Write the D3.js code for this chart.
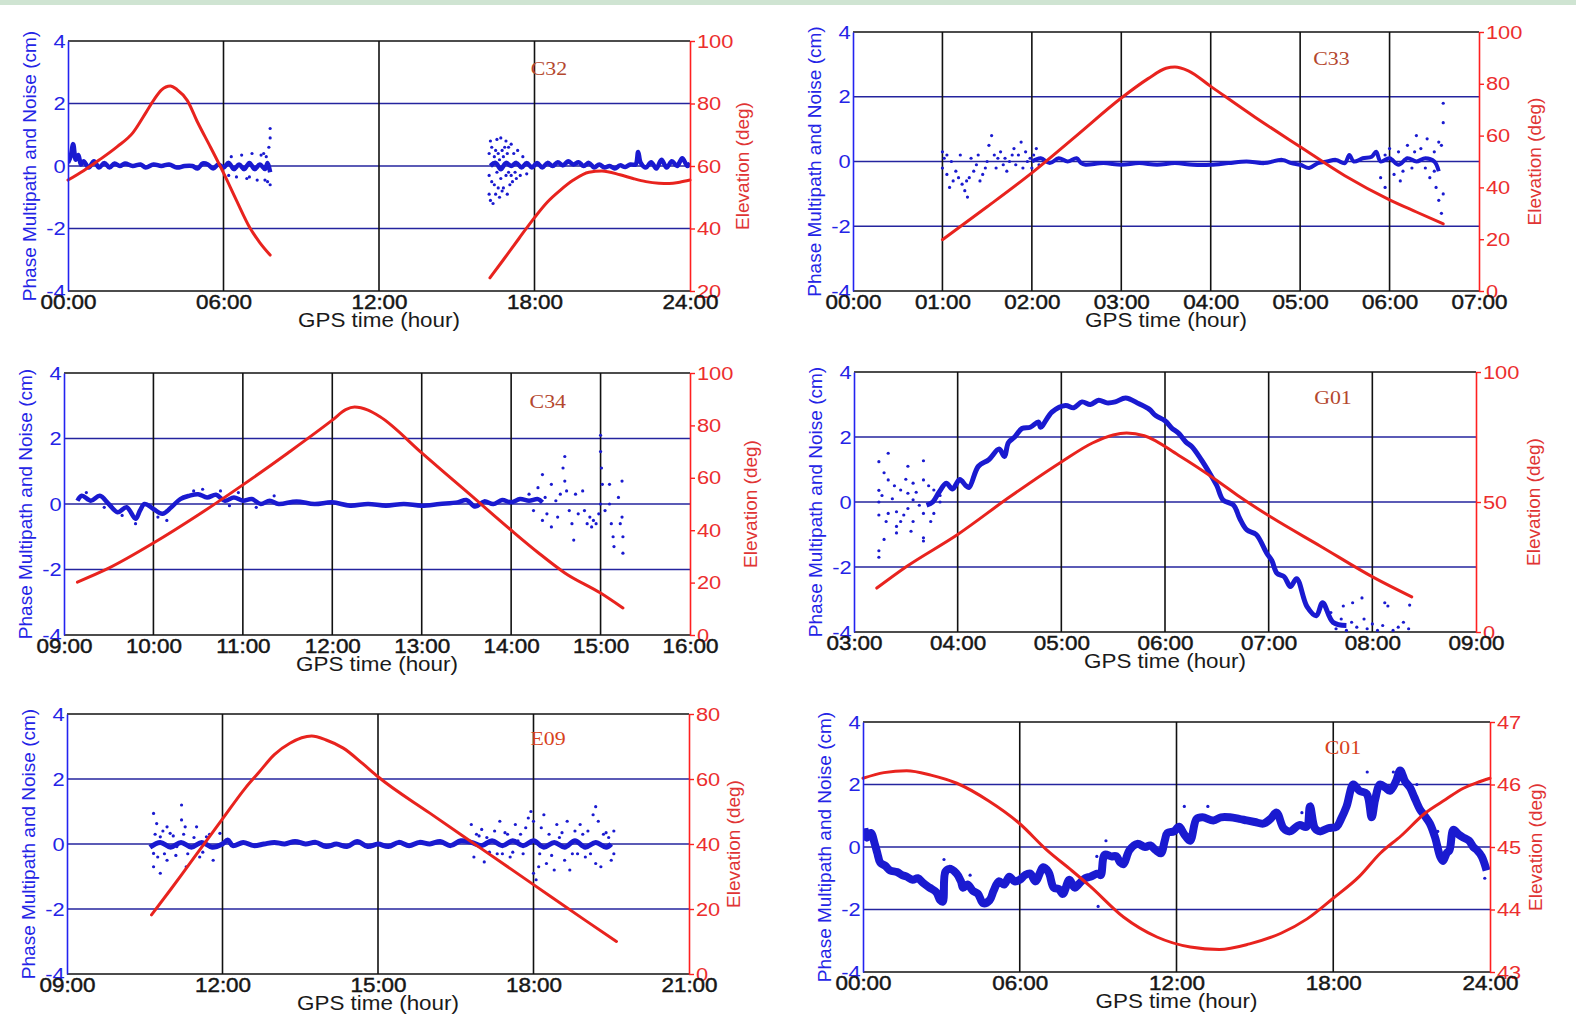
<!DOCTYPE html>
<html>
<head>
<meta charset="utf-8">
<script src="https://cdnjs.cloudflare.com/ajax/libs/d3/7.8.5/d3.min.js"></script>
<style>
body { margin: 0; background: #fff; }
svg { display: block; }
</style>
</head>
<body>
<svg id="chart" width="1576" height="1014"></svg>
<script>
// ---- data: [hour, value] pairs ----
// left axis ticks shared by every panel (cm)
const leftTicks = [-4, -2, 0, 2, 4];

// C32
const c32Ticks = [0, 6, 12, 18, 24];
const c32ElevTicks = [20, 40, 60, 80, 100];
const c32Elev1 = [[0,55.5],[0.6,58.5],[1.2,61.9],[1.9,66.2],[2.5,70.6],[3.0,77],[3.3,81],[3.6,84.3],[3.95,85.6],[4.2,84.5],[4.6,81],[5.0,74],[5.5,66],[6.0,57.8],[6.5,49],[7.0,40.5],[7.4,35.5],[7.8,31.5]];
const c32Elev2 = [[16.28,24.2],[16.8,30],[17.4,36.8],[18.0,43.5],[18.5,48.5],[19.0,52.3],[19.5,55.5],[20.1,58],[20.6,58.4],[21.3,57.2],[21.8,56],[22.3,55],[22.8,54.5],[23.2,54.4],[23.6,54.8],[24.0,55.5]];
const c32Band1 = [[0.0,0.1],[0.1,0.3],[0.2,0.7],[0.3,0.2],[0.4,0.35],[0.5,0.05],[0.6,0.15],[0.8,-0.05],[1.0,0.15],[1.2,-0.05],[1.4,0.1],[1.6,-0.05],[1.8,0.08],[2.0,0.0],[2.2,0.08],[2.5,0.0],[2.8,0.05],[3.0,-0.05],[3.3,0.05],[3.6,0.0],[3.9,0.05],[4.2,-0.05],[4.5,0.0],[4.8,0.0],[5.0,-0.08],[5.2,0.08],[5.4,0.05],[5.6,-0.08],[5.8,0.05],[6.0,-0.05],[6.2,0.1],[6.4,-0.1],[6.6,0.05],[6.8,-0.1],[7.0,0.1],[7.2,-0.1],[7.4,0.05],[7.6,-0.1],[7.7,0.1],[7.8,-0.2]];
const c32Band2 = [[16.3,0.0],[16.5,0.1],[16.7,-0.1],[16.9,0.1],[17.1,0.0],[17.3,0.1],[17.5,-0.05],[17.7,0.1],[17.9,-0.05],[18.1,0.1],[18.3,-0.05],[18.5,0.1],[18.7,0.0],[18.9,0.12],[19.1,0.02],[19.3,0.15],[19.5,0.05],[19.7,0.12],[19.9,0.0],[20.1,0.1],[20.3,-0.05],[20.5,0.05],[20.7,-0.05],[20.9,0.0],[21.1,-0.08],[21.3,0.02],[21.5,-0.03],[21.7,0.05],[21.9,0.05],[22.0,0.45],[22.1,0.1],[22.3,-0.05],[22.5,0.12],[22.7,-0.08],[22.9,0.2],[23.1,-0.05],[23.3,0.15],[23.5,0.0],[23.7,0.25],[23.9,0.0],[24.0,0.1]];
const c32Scatter = [[7.8,1.2],[7.8,0.9],[7.75,0.6],[7.8,-0.6],[7.7,-0.5],[7.55,0.4],[7.3,-0.45],[7.0,-0.35],[6.2,-0.3],[6.3,0.3],[6.5,-0.35],[6.7,0.35],[6.9,-0.4],[7.1,0.4],[7.45,0.35],[7.6,-0.45],[7.65,0.3],
  [16.25,-0.9],[16.25,0.4],[16.25,-0.3],[16.3,-1.1],[16.3,0.8],[16.35,0.6],[16.35,-0.5],[16.4,-1.2],[16.4,0.1],[16.45,0.3],[16.45,-0.6],[16.5,-0.9],[16.5,0.5],[16.55,0.85],[16.55,-0.2],[16.6,-0.7],[16.6,0.4],[16.65,-1.0],[16.65,0.2],[16.7,0.9],[16.7,-0.4],[16.75,0.5],[16.75,-0.8],[16.8,-0.7],[16.8,0.3],[16.85,0.6],[16.9,0.8],[16.9,-0.3],[16.95,-0.9],[16.95,0.4],[17.0,0.6],[17.0,-0.2],[17.05,-0.6],[17.1,0.7],[17.1,-0.3],[17.15,-0.5],[17.2,0.4],[17.25,-0.2],[17.3,-0.4],[17.35,0.5],[17.45,-0.3],[17.55,0.3],[17.7,-0.25]];

// C33
const c33Ticks = [0, 1, 2, 3, 4, 5, 6, 7];
const c33ElevTicks = [0, 20, 40, 60, 80, 100];
const c33Elev = [[1.0,19.8],[1.5,32.5],[2.0,45.6],[2.5,60],[3.0,74.5],[3.3,82],[3.5,86],[3.6,86.5],[3.75,85],[4.0,79],[4.5,67],[5.0,55.7],[5.5,44.5],[6.0,35.2],[6.3,30.5],[6.6,25.9]];
const c33Band = [[2.0,0.0],[2.1,0.1],[2.2,-0.05],[2.3,0.1],[2.4,0.0],[2.5,0.1],[2.55,-0.05],[2.6,-0.1],[2.8,-0.05],[3.0,-0.1],[3.2,-0.05],[3.4,-0.1],[3.6,-0.05],[3.8,-0.1],[4.0,-0.1],[4.2,-0.05],[4.4,0.0],[4.6,-0.05],[4.8,0.05],[4.9,-0.05],[5.0,-0.1],[5.1,-0.2],[5.2,-0.05],[5.3,0.0],[5.4,0.05],[5.5,-0.05],[5.55,0.2],[5.6,0.0],[5.7,0.1],[5.8,0.15],[5.85,0.3],[5.9,0.0],[6.0,0.1],[6.1,-0.1],[6.2,0.1],[6.3,0.0],[6.4,0.1],[6.5,0.0],[6.55,-0.3]];
const c33Scatter = [[1.0,0.3],[1.0,-0.2],[1.02,0.1],[1.05,-0.4],[1.1,0.0],[1.12,-0.6],[1.15,-0.3],[1.2,0.2],[1.22,-0.7],[1.25,-0.9],[1.28,-1.1],[1.3,-0.5],[1.32,0.1],[1.35,-0.3],[1.4,0.2],[1.42,-0.6],[1.45,-0.4],[1.5,0.0],[1.52,0.5],[1.55,0.8],[1.58,0.2],[1.6,-0.2],[1.65,0.3],[1.7,0.1],[1.72,-0.3],[1.75,0.0],[1.8,0.4],[1.82,-0.1],[1.85,0.2],[1.88,0.6],[1.9,-0.2],[1.93,0.3],[1.95,0.0],[2.0,-0.2],[2.02,0.2],[2.05,0.4],[2.08,-0.1],[2.1,0.1],
  [1.05,0.2],[1.08,-0.8],[1.18,-0.5],[1.27,-0.6],[1.38,-0.1],[1.48,-0.2],[1.62,0.1],[1.68,-0.1],[1.78,0.2],[1.98,0.1],
  [5.9,-0.5],[5.95,-0.8],[6.0,0.4],[6.05,-0.4],[6.1,0.3],[6.15,-0.3],[6.2,0.5],[6.25,-0.2],[6.3,0.8],[6.35,0.4],[6.4,-0.2],[6.42,0.7],[6.45,-0.5],[6.5,0.3],[6.52,-0.8],[6.55,-1.2],[6.58,-1.6],[6.6,1.2],[6.6,1.8],[6.58,0.5],[6.6,-1.0],[6.5,-0.3],[6.55,0.6],[5.95,0.2],[6.12,-0.6],[6.28,0.3]];

// C34
const c34Ticks = [9, 10, 11, 12, 13, 14, 15, 16];
const c34ElevTicks = [0, 20, 40, 60, 80, 100];
const c34Elev = [[9.15,20.2],[9.5,25.5],[10.0,35.1],[10.5,45.8],[11.0,57.3],[11.5,69.4],[12.0,82],[12.15,86],[12.25,87],[12.4,85.8],[12.53,83.4],[13.0,69.5],[13.5,54.8],[14.0,40],[14.3,31.5],[14.6,23.7],[15.0,16],[15.25,10.3]];
const c34Band = [[9.15,0.1],[9.2,0.25],[9.3,0.1],[9.4,0.25],[9.5,0.0],[9.6,-0.25],[9.7,-0.1],[9.8,-0.45],[9.85,-0.2],[9.9,0.0],[10.0,-0.15],[10.1,-0.3],[10.2,-0.1],[10.3,0.15],[10.4,0.25],[10.5,0.3],[10.6,0.2],[10.7,0.28],[10.8,0.1],[10.9,0.2],[11.0,0.1],[11.1,0.15],[11.2,0.0],[11.3,0.1],[11.4,0.0],[11.6,0.08],[11.8,0.0],[12.0,0.05],[12.2,-0.05],[12.4,0.0],[12.6,-0.05],[12.8,0.0],[13.0,-0.05],[13.2,0.0],[13.4,0.05],[13.5,0.12],[13.6,-0.08],[13.7,0.08],[13.8,0.0],[13.9,0.12],[14.0,0.05],[14.1,0.15],[14.2,0.1],[14.3,0.15],[14.35,0.05]];
const c34Scatter = [[14.2,0.3],[14.25,-0.2],[14.3,0.5],[14.35,0.9],[14.35,-0.5],[14.38,0.2],[14.4,-0.3],[14.45,0.6],[14.45,-0.7],[14.5,0.1],[14.52,-0.4],[14.55,0.3],[14.58,1.1],[14.6,1.45],[14.6,0.7],[14.62,0.4],[14.65,-0.2],[14.68,-0.6],[14.7,-1.1],[14.72,0.3],[14.75,-0.3],[14.8,0.4],[14.82,-0.2],[14.85,-0.6],[14.88,-0.4],[14.9,-0.7],[14.92,-0.5],[14.95,-0.6],[14.98,-0.3],[15.0,2.1],[15.0,1.6],[15.01,1.1],[15.02,0.6],[15.0,0.0],[15.05,-0.2],[15.1,0.6],[15.1,0.0],[15.12,-0.6],[15.14,-1.0],[15.15,-1.3],[15.2,0.2],[15.24,0.7],[15.24,-0.4],[15.25,-1.0],[15.25,-1.5],[15.22,-0.6],
  [9.25,0.35],[9.45,-0.1],[9.65,-0.35],[9.8,-0.6],[10.05,-0.4],[10.15,-0.5],[10.45,0.4],[10.55,0.45],[10.75,0.4],[10.85,-0.05],[10.95,0.35],[11.15,-0.1],[11.35,0.25]];

// G01
const g01Ticks = [3, 4, 5, 6, 7, 8, 9];
const g01ElevTicks = [0, 50, 100];
const g01Elev = [[3.22,16.9],[3.5,25],[4.0,37.5],[4.5,51.9],[5.0,65.4],[5.3,72.7],[5.5,75.8],[5.63,76.5],[5.8,75.5],[6.13,68],[6.5,58.3],[6.72,52],[7.03,44],[7.5,33],[8.02,20.8],[8.38,13.5]];
const g01Band = [[3.7,-0.1],[3.76,0.0],[3.82,0.3],[3.89,0.58],[3.95,0.4],[4.02,0.69],[4.08,0.5],[4.11,0.45],[4.2,1.1],[4.3,1.3],[4.4,1.63],[4.45,1.4],[4.49,1.83],[4.55,2.0],[4.62,2.26],[4.7,2.3],[4.78,2.46],[4.8,2.3],[4.91,2.77],[5.04,2.97],[5.12,2.9],[5.2,3.08],[5.28,3.0],[5.36,3.13],[5.44,3.05],[5.52,3.08],[5.62,3.2],[5.75,3.02],[5.85,2.85],[5.91,2.66],[6.0,2.5],[6.07,2.26],[6.13,2.12],[6.2,1.85],[6.26,1.7],[6.35,1.3],[6.43,0.89],[6.5,0.5],[6.56,0.06],[6.66,-0.09],[6.72,-0.5],[6.79,-0.86],[6.88,-1.0],[6.98,-1.57],[7.03,-1.8],[7.08,-2.19],[7.15,-2.3],[7.21,-2.6],[7.27,-2.36],[7.37,-3.22],[7.46,-3.5],[7.52,-3.1],[7.62,-3.7],[7.75,-3.8]];
const g01Scatter = [[3.24,1.24],[3.24,-1.5],[3.24,-1.7],[3.24,0.36],[3.24,0.0],[3.24,-0.4],[3.29,-1.15],[3.29,0.9],[3.33,1.5],[3.33,0.68],[3.33,-0.35],[3.41,-0.3],[3.41,-0.75],[3.41,-0.95],[3.45,0.37],[3.45,-0.6],[3.52,1.1],[3.52,0.27],[3.52,-0.2],[3.57,0.58],[3.57,0.07],[3.57,-0.6],[3.67,1.27],[3.67,0.68],[3.67,-1.1],[3.67,-0.35],[3.67,-1.2],[3.77,0.37],[3.77,-0.35],[3.83,0.2],[3.83,0.0],
  [3.27,0.2],[3.31,-0.6],[3.37,0.1],[3.39,0.5],[3.48,-0.4],[3.5,0.7],[3.55,-0.9],[3.6,0.3],[3.63,-0.1],[3.72,0.5],[3.74,-0.6],
  [7.6,-3.4],[7.65,-3.9],[7.7,-3.6],[7.72,-3.2],[7.75,-3.95],[7.8,-3.7],[7.81,-3.1],[7.85,-3.85],[7.9,-2.95],[7.92,-3.6],[7.95,-3.9],[8.0,-3.75],[8.05,-3.95],[8.1,-3.8],[8.12,-3.1],[8.15,-3.2],[8.2,-3.95],[8.25,-3.85],[8.3,-3.7],[8.36,-3.17],[8.35,-3.9]];

// E09
const e09Ticks = [9, 12, 15, 18, 21];
const e09ElevTicks = [0, 20, 40, 60, 80];
const e09Elev = [[10.63,18.2],[11.0,26],[11.3,32.5],[11.7,41.2],[12.0,47.7],[12.44,57.2],[12.7,62],[13.0,67.5],[13.3,71],[13.72,73.2],[14.0,72],[14.33,69.5],[14.7,64.8],[15.0,60.7],[16.0,49.5],[17.0,38.5],[18.0,27.5],[19.0,16.5],[19.6,10]];
const e09Band = [[10.6,-0.1],[10.8,0.05],[11.0,-0.1],[11.2,0.05],[11.4,-0.1],[11.6,0.05],[11.8,-0.1],[12.0,0.0],[12.1,0.12],[12.2,-0.05],[12.4,0.05],[12.6,-0.05],[12.8,0.0],[13.0,0.05],[13.2,0.0],[13.4,0.08],[13.6,0.0],[13.8,0.05],[14.0,-0.08],[14.2,0.0],[14.4,-0.08],[14.6,0.08],[14.8,-0.08],[15.0,0.0],[15.2,-0.08],[15.4,0.05],[15.6,-0.05],[15.8,0.05],[16.0,0.0],[16.2,0.08],[16.4,-0.05],[16.6,0.1],[16.8,0.05],[17.0,-0.05],[17.2,0.1],[17.4,-0.05],[17.6,0.1],[17.8,-0.05],[18.0,0.1],[18.2,-0.1],[18.4,0.05],[18.6,-0.1],[18.8,0.1],[19.0,-0.1],[19.2,0.05],[19.4,-0.1],[19.5,0.0]];
const e09Scatter = [[10.67,0.94],[10.67,-0.29],[10.67,-0.7],[10.73,0.63],[10.8,-0.9],[10.8,0.22],[10.93,0.53],[10.93,-0.5],[10.99,0.33],[11.12,-0.08],[11.21,1.2],[11.21,0.74],[11.28,0.53],[11.3,-0.7],[11.37,-0.08],[11.5,0.53],[11.56,-0.4],[11.69,0.22],[11.82,-0.5],[11.95,0.33],
  [10.7,0.3],[10.75,-0.4],[10.85,0.4],[10.88,-0.3],[11.05,0.25],[11.1,-0.35],[11.25,0.3],[11.33,-0.3],[11.45,0.2],[11.62,-0.25],[11.75,0.3],
  [16.8,0.6],[16.85,-0.4],[16.9,0.3],[17.0,0.45],[17.05,-0.55],[17.1,0.2],[17.25,0.4],[17.35,0.7],[17.4,-0.3],[17.5,0.3],[17.55,-0.4],[17.65,0.6],[17.7,0.1],[17.8,-0.3],[17.85,0.5],[17.9,0.8],[17.95,1.0],[18.0,0.7],[18.0,-0.9],[18.05,-1.1],[18.1,-0.7],[18.15,0.5],[18.2,0.9],[18.25,-0.6],[18.3,0.3],[18.4,-0.8],[18.45,0.6],[18.5,0.2],[18.6,-0.5],[18.65,0.7],[18.7,-0.8],[18.8,0.4],[18.85,-0.3],[18.9,0.6],[19.0,-0.4],[19.05,0.4],[19.15,0.9],[19.2,1.15],[19.2,-0.6],[19.25,0.7],[19.3,-0.7],[19.35,0.3],[19.45,0.2],[19.5,-0.5],[19.55,0.4],[19.55,-0.3],
  [16.95,0.25],[17.15,-0.25],[17.3,-0.3],[17.45,0.35],[17.6,-0.25],[17.75,0.3],[18.12,-0.3],[18.35,-0.35],[18.55,0.35],[18.75,-0.3],[18.95,0.3],[19.1,-0.3],[19.4,0.35]];

// C01
const c01Ticks = [0, 6, 12, 18, 24];
const c01ElevTicks = [43, 44, 45, 46, 47];
const c01Elev = [[0,46.1],[0.8,46.19],[1.67,46.22],[2.6,46.15],[3.59,46.02],[4.8,45.74],[5.98,45.38],[7.04,44.95],[8.0,44.62],[8.7,44.37],[9.97,43.88],[11.25,43.56],[12.53,43.4],[13.64,43.36],[14.8,43.45],[16.0,43.62],[17.0,43.85],[18.0,44.18],[19.0,44.53],[19.8,44.9],[20.6,45.18],[21.51,45.54],[22.3,45.76],[22.98,45.94],[23.5,46.03],[24.0,46.1]];
const c01Band = [[0.05,0.6],[0.15,0.3],[0.3,0.45],[0.45,0.1],[0.55,-0.2],[0.66,-0.5],[0.85,-0.6],[1.04,-0.75],[1.3,-0.8],[1.5,-0.9],[1.67,-0.95],[1.9,-1.05],[2.1,-1.0],[2.3,-1.15],[2.55,-1.3],[2.81,-1.45],[2.95,-1.7],[3.05,-1.75],[3.15,-0.8],[3.3,-0.7],[3.58,-0.85],[3.75,-1.1],[3.83,-1.3],[4.0,-1.2],[4.2,-1.4],[4.4,-1.5],[4.6,-1.8],[4.85,-1.7],[5.0,-1.4],[5.2,-1.1],[5.4,-1.2],[5.6,-0.95],[5.8,-1.1],[6.0,-1.05],[6.2,-0.9],[6.4,-0.85],[6.6,-1.1],[6.9,-0.65],[7.1,-0.8],[7.3,-1.3],[7.5,-1.35],[7.65,-1.5],[7.9,-1.05],[8.1,-1.3],[8.3,-1.15],[8.5,-1.0],[8.7,-0.95],[9.0,-0.85],[9.1,-0.9],[9.25,-0.25],[9.5,-0.3],[9.7,-0.3],[9.85,-0.5],[9.97,-0.55],[10.2,-0.1],[10.5,0.1],[10.8,0.0],[11.0,0.05],[11.2,-0.1],[11.4,-0.2],[11.55,0.2],[11.65,0.45],[11.9,0.5],[12.1,0.65],[12.3,0.4],[12.52,0.2],[12.77,0.9],[13.0,0.95],[13.41,0.85],[13.7,0.95],[14.05,0.95],[14.4,0.9],[14.69,0.85],[15.0,0.8],[15.32,0.75],[15.6,0.9],[15.83,1.1],[16.1,0.6],[16.34,0.5],[16.7,0.7],[16.98,0.65],[17.11,1.3],[17.3,0.6],[17.49,0.5],[17.8,0.6],[18.13,0.65],[18.3,0.9],[18.51,1.3],[18.77,2.0],[19.0,1.8],[19.28,1.7],[19.47,0.95],[19.6,1.5],[19.79,2.0],[20.0,1.9],[20.17,1.8],[20.4,2.1],[20.56,2.45],[20.75,2.1],[20.94,1.9],[21.1,1.6],[21.32,1.2],[21.5,1.0],[21.7,0.75],[21.9,0.3],[22.09,-0.3],[22.2,-0.45],[22.34,-0.2],[22.45,-0.1],[22.6,0.55],[22.8,0.4],[22.98,0.3],[23.2,0.2],[23.36,0.0],[23.5,-0.1],[23.68,-0.3],[23.87,-0.75]];
const c01Scatter = [[3.1,-0.4],[4.1,-0.9],[8.95,-0.3],[9.0,-1.9],[9.3,0.2],[12.3,1.3],[13.2,1.3],[16.8,1.1],[19.3,2.4],[20.3,2.4],[21.2,2.0],[22.0,0.5],[23.8,-1.0]];

// ---- layout (pixels) ----
const panels = [
  {name: "C32", left: 68, right: 690, top: 41, bottom: 291, xTicks: c32Ticks, rTicks: c32ElevTicks,
   elev: [c32Elev1, c32Elev2], bands: [c32Band1, c32Band2], scatter: c32Scatter, bandW: 4.5,
   label: [18.56, 3.14], labelColor: "#b4472e", rLabelOff: 52},
  {name: "C33", left: 853, right: 1479, top: 32, bottom: 291, xTicks: c33Ticks, rTicks: c33ElevTicks,
   elev: [c33Elev], bands: [c33Band], scatter: c33Scatter, bandW: 4,
   label: [5.35, 3.19], labelColor: "#b4472e", rLabelOff: 55},
  {name: "C34", left: 64, right: 690, top: 373, bottom: 635, xTicks: c34Ticks, rTicks: c34ElevTicks,
   elev: [c34Elev], bands: [c34Band], scatter: c34Scatter, bandW: 4.5,
   label: [14.41, 3.14], labelColor: "#b4472e", rLabelOff: 60},
  {name: "G01", left: 854, right: 1476, top: 372, bottom: 632, xTicks: g01Ticks, rTicks: g01ElevTicks,
   elev: [g01Elev], bands: [g01Band], scatter: g01Scatter, bandW: 5,
   label: [7.62, 3.23], labelColor: "#b4472e", rLabelOff: 57},
  {name: "E09", left: 67, right: 689, top: 714, bottom: 974, xTicks: e09Ticks, rTicks: e09ElevTicks,
   elev: [e09Elev], bands: [e09Band], scatter: e09Scatter, bandW: 5,
   label: [18.28, 3.26], labelColor: "#d8431c", rLabelOff: 44},
  {name: "C01", left: 863, right: 1490, top: 722, bottom: 972, xTicks: c01Ticks, rTicks: c01ElevTicks,
   elev: [c01Elev], bands: [c01Band], scatter: c01Scatter, bandW: 8,
   label: [18.37, 3.2], labelColor: "#d8431c", rLabelOff: 45}
];

const STRETCH = 1.15;
const SANS = "'Liberation Sans', Arial, sans-serif";
const SERIF = "'Liberation Serif', 'Times New Roman', serif";
const BLUE = "#1a1ad0";
const RED = "#e8231e";
const hh = h => String(h).padStart(2, "0") + ":00";

const svg = d3.select("#chart");
svg.append("rect").attr("x", 0).attr("y", 0).attr("width", 1576).attr("height", 5).attr("fill", "#cfe4d2");

panels.forEach((p, i) => drawPanel(p, i));

function drawPanel(p, i) {
  const x = d3.scaleLinear().domain([p.xTicks[0], p.xTicks[p.xTicks.length - 1]]).range([p.left, p.right]);
  const yL = d3.scaleLinear().domain([-4, 4]).range([p.bottom, p.top]);
  const yR = d3.scaleLinear().domain([p.rTicks[0], p.rTicks[p.rTicks.length - 1]]).range([p.bottom, p.top]);
  const g = svg.append("g");

  const clipId = "clip" + i;
  g.append("clipPath").attr("id", clipId).append("rect")
    .attr("x", p.left).attr("y", p.top)
    .attr("width", p.right - p.left).attr("height", p.bottom - p.top);

  // horizontal grid lines (navy)
  g.selectAll(".hgrid").data(leftTicks.filter(v => v > -4 && v < 4)).enter().append("line")
    .attr("x1", p.left).attr("x2", p.right)
    .attr("y1", d => yL(d)).attr("y2", d => yL(d))
    .attr("stroke", "#24249e").attr("stroke-width", 1.4);

  // vertical grid lines (black)
  g.selectAll(".vgrid").data(p.xTicks.slice(1, -1)).enter().append("line")
    .attr("x1", d => x(d)).attr("x2", d => x(d))
    .attr("y1", p.top).attr("y2", p.bottom)
    .attr("stroke", "#111").attr("stroke-width", 1.6);

  // top and bottom frame
  [p.top, p.bottom].forEach(yy => {
    g.append("line").attr("x1", p.left).attr("x2", p.right).attr("y1", yy).attr("y2", yy)
      .attr("stroke", "#111").attr("stroke-width", 1.6);
  });

  // multipath data
  const dataG = g.append("g").attr("clip-path", `url(#${clipId})`);
  const bandLine = d3.line().x(d => x(d[0])).y(d => yL(d[1])).curve(d3.curveCatmullRom);
  p.bands.forEach(b => {
    dataG.append("path").datum(b)
      .attr("d", bandLine)
      .attr("fill", "none")
      .attr("stroke", BLUE)
      .attr("stroke-width", p.bandW)
      .attr("stroke-linejoin", "round");
  });
  dataG.selectAll("circle").data(p.scatter).enter().append("circle")
    .attr("cx", d => x(d[0])).attr("cy", d => yL(d[1]))
    .attr("r", 1.6).attr("fill", BLUE);

  // elevation curve
  const elevLine = d3.line().x(d => x(d[0])).y(d => yR(d[1])).curve(d3.curveMonotoneX);
  p.elev.forEach(e => {
    g.append("path").datum(e)
      .attr("d", elevLine)
      .attr("fill", "none")
      .attr("stroke", RED)
      .attr("stroke-width", 3)
      .attr("stroke-linecap", "round");
  });

  // left axis
  const ax = g.append("g").attr("transform", `translate(${p.left},0)`)
    .call(d3.axisLeft(yL).tickValues(leftTicks).tickFormat(d => String(d))
      .tickSize(0).tickSizeOuter(0).tickPadding(2));
  ax.select(".domain").attr("stroke", "#2323f0").attr("stroke-width", 1.6);
  ax.selectAll("text").attr("fill", "#2424e6").attr("font-size", 19).attr("font-family", SANS)
    .attr("transform", `scale(${STRETCH},1)`);

  // right axis
  const ar = g.append("g").attr("transform", `translate(${p.right},0)`)
    .call(d3.axisRight(yR).tickValues(p.rTicks).tickFormat(d => String(d))
      .tickSize(5).tickSizeOuter(0).tickPadding(1));
  ar.select(".domain").attr("stroke", "#ff2020").attr("stroke-width", 1.6);
  ar.selectAll(".tick line").attr("stroke", "#ff2020").attr("stroke-width", 1.4);
  ar.selectAll("text").attr("fill", "#ec2e2e").attr("font-size", 19).attr("font-family", SANS)
    .attr("transform", `scale(${STRETCH},1)`);

  // bottom axis labels
  const ab = g.append("g").attr("transform", `translate(0,${p.bottom})`)
    .call(d3.axisBottom(x).tickValues(p.xTicks).tickFormat(hh).tickSize(0).tickPadding(4));
  ab.select(".domain").remove();
  ab.selectAll("text").attr("fill", "#161616").attr("font-size", 19.5).attr("font-family", SANS)
    .attr("stroke", "#161616").attr("stroke-width", 0.45)
    .attr("transform", `scale(${STRETCH},1)`);

  // axis titles
  g.append("text")
    .attr("transform", `translate(${(p.left + p.right) / 2},${p.bottom + 36}) scale(${STRETCH},1)`)
    .attr("text-anchor", "middle").attr("font-size", 19.5).attr("font-family", SANS)
    .attr("fill", "#1a1a1a").text("GPS time (hour)");

  const cy = (p.top + p.bottom) / 2;
  g.append("text")
    .attr("transform", `translate(${p.left - 39},${cy}) rotate(-90)`)
    .attr("text-anchor", "middle").attr("dy", "0.35em").attr("font-size", 19).attr("font-family", SANS)
    .attr("fill", "#2424e6").text("Phase Multipath and Noise (cm)");

  g.append("text")
    .attr("transform", `translate(${p.right + p.rLabelOff},${cy}) rotate(-90)`)
    .attr("text-anchor", "middle").attr("dy", "0.35em").attr("font-size", 19).attr("font-family", SANS)
    .attr("fill", "#e03434").text("Elevation (deg)");

  // satellite id
  g.append("text")
    .attr("transform", `translate(${x(p.label[0])},${yL(p.label[1])}) scale(${STRETCH},1)`)
    .attr("text-anchor", "middle").attr("dy", "0.35em").attr("font-size", 19).attr("font-family", SERIF)
    .attr("fill", p.labelColor).text(p.name);
}
</script>
</body>
</html>
